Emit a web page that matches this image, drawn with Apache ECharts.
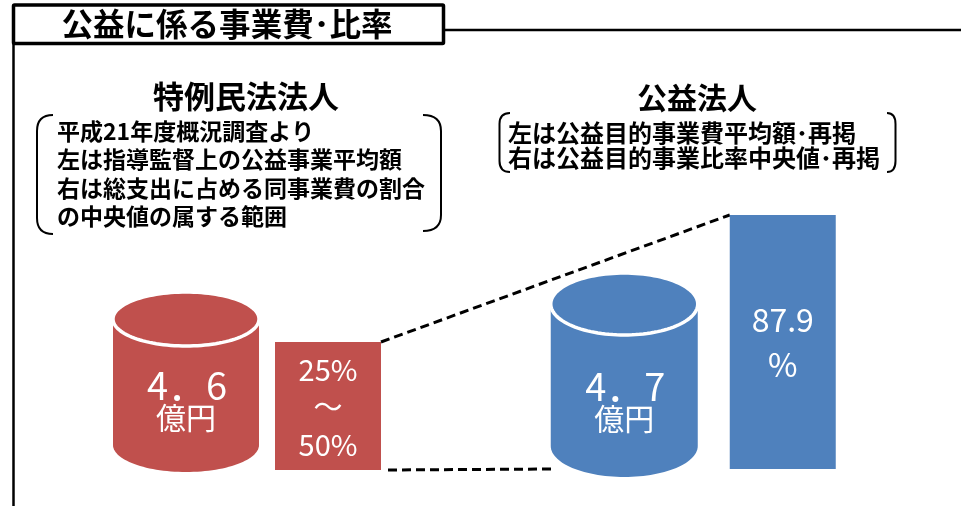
<!DOCTYPE html>
<html><head><meta charset="utf-8">
<script src="https://cdn.jsdelivr.net/npm/echarts@6/dist/echarts.min.js"></script>
<style>html,body{margin:0;padding:0;background:#fff}#main{width:961px;height:506px}</style>
</head><body><div id="main"></div>
<script>
// ---- data ----
const chartTitle = '公益に係る事業費･比率';
const groupNames = ['特例民法法人', '公益法人'];
const groupNotesSpecial = ['平成21年度概況調査より', '左は指導監督上の公益事業平均額', '右は総支出に占める同事業費の割合', 'の中央値の属する範囲'];
const groupNotesPublic = ['左は公益目的事業費平均額･再掲', '右は公益目的事業比率中央値･再掲'];
const slotNames = ['平均額', '比率'];
const avgAmount = [4.6, 4.7];            // 億円
const amountUnit = '億円';
const ratioRangeSpecial = [25, 50];      // % (中央値の属する範囲)
const ratioMedianPublic = [87.9];        // %

// ---- style / layout ----
const FONT = '"Noto Sans CJK JP", "Noto Sans", sans-serif';
const RED = '#C0504D', BLUE = '#4F81BD';
const BAR_W = 106;
const CYL = [{rx: 73, ry: 27, topUp: 151, botUp: 25}, {rx: 73.5, ry: 31, topUp: 165, botUp: 23}];
const COLORS = [RED, BLUE];

function fmtAmount(v) { return String(v).replace('.', '．'); }

function ellipsePts(cx, cy, rx, ry, a0, a1, n) {
  const pts = [];
  for (let i = 0; i <= n; i++) {
    const a = a0 + (a1 - a0) * i / n;
    pts.push([cx + rx * Math.cos(a), cy + ry * Math.sin(a)]);
  }
  return pts;
}

function cylinderItem(gi) {
  return function (params, api) {
    const cs = params.coordSys;
    const baseY = cs.y + cs.height;
    const cx = api.coord([api.value(0), 0])[0];
    const c = CYL[gi];
    const topCy = baseY - c.topUp, botCy = baseY - c.botUp;
    const col = COLORS[gi];
    const body = [[cx - c.rx, topCy]].concat(ellipsePts(cx, botCy, c.rx, c.ry, Math.PI, 0, 60)).concat([[cx + c.rx, topCy]]);
    const top = ellipsePts(cx, topCy, c.rx, c.ry, 0, Math.PI * 2, 120);
    return {
      type: 'group',
      children: [
        {type: 'polygon', shape: {points: body}, style: {fill: col}},
        {type: 'polygon', shape: {points: top}, style: {fill: col, stroke: '#fff', lineWidth: 3.5}},
        {type: 'text', x: cx + 1, y: botCy - 59, style: {text: fmtAmount(api.value(1)), fill: '#fff', fontSize: 38, fontFamily: FONT, align: 'center', verticalAlign: 'middle'}},
        {type: 'text', x: cx, y: botCy - 27, style: {text: amountUnit, fill: '#fff', fontSize: 30, fontFamily: FONT, align: 'center', verticalAlign: 'middle'}}
      ]
    };
  };
}

function rangeItem(params, api) {
  const top = api.coord([api.value(0), api.value(2)]);
  const bot = api.coord([api.value(0), api.value(1)]);
  return {
    type: 'group',
    children: [
      {type: 'rect', shape: {x: top[0] - BAR_W / 2, y: top[1], width: BAR_W, height: bot[1] - top[1]}, style: {fill: RED}},
      {type: 'text', x: top[0], y: (top[1] + bot[1]) / 2 + 1,
        style: {text: api.value(1) + '%\n～\n' + api.value(2) + '%', fill: '#fff', fontSize: 29, lineHeight: 37.5, fontFamily: FONT, align: 'center', verticalAlign: 'middle'}}
    ]
  };
}

const chart = echarts.init(document.getElementById('main'));

function txt(id, x, y, s, size, weight, align) {
  return {type: 'text', id: id, x: x, y: y, z: 10,
    style: {text: s, fill: '#000', fontSize: size, fontWeight: weight || 'bold', fontFamily: FONT, align: align || 'center', verticalAlign: 'middle'}};
}
// bracket: xe = end x (tips), xs = spine x, y0/y1 top/bottom, r = corner size
function bracket(id, xe, xs, y0, y1, r) {
  const st = {stroke: '#000', lineWidth: 2, fill: null};
  return {type: 'group', id: id, children: [
    {type: 'bezierCurve', shape: {x1: xe, y1: y0, cpx1: xs, cpy1: y0, x2: xs, y2: y0 + r}, style: st},
    {type: 'line', shape: {x1: xs, y1: y0 + r, x2: xs, y2: y1 - r}, style: st},
    {type: 'bezierCurve', shape: {x1: xs, y1: y1 - r, cpx1: xs, cpy1: y1, x2: xe, y2: y1}, style: st}
  ]};
}

const graphics = [
  {type: 'line', id: 'hline', shape: {x1: 443, y1: 30, x2: 961, y2: 30}, style: {stroke: '#000', lineWidth: 2.5}},
  {type: 'line', id: 'vline', shape: {x1: 13.5, y1: 43, x2: 13.5, y2: 506}, style: {stroke: '#000', lineWidth: 2.5}},
  {type: 'rect', id: 'tbox', shape: {x: 13.5, y: 5, width: 430, height: 38.5, r: 1}, style: {stroke: '#000', lineWidth: 3.5, fill: '#fff'}},
  txt('title', 227, 24.5, chartTitle, 31.5),
  txt('g0', 246, 96, groupNames[0], 31),
  txt('g1', 697, 98, groupNames[1], 30),
  bracket('b0l', 53, 37, 115, 234, 16),
  bracket('b0r', 423, 441, 115, 231, 16),
  bracket('b1l', 510, 499.5, 113, 172, 11),
  bracket('b1r', 887, 895.5, 113, 172, 11)
];
groupNotesSpecial.forEach((s, i) => graphics.push(txt('n0_' + i, 57, 131 + i * 28.5, s, 23, 'bold', 'left')));
groupNotesPublic.forEach((s, i) => graphics.push(txt('n1_' + i, 508, 132.5 + i * 25, s, 24, 'bold', 'left')));

chart.setOption({
  animation: false,
  backgroundColor: '#fff',
  grid: [
    {left: 115, width: 284, top: 86, bottom: 36},
    {left: 545, width: 317, top: 180, bottom: 37}
  ],
  xAxis: [
    {gridIndex: 0, type: 'category', data: slotNames, show: false},
    {gridIndex: 1, type: 'category', data: slotNames, show: false}
  ],
  yAxis: [
    {gridIndex: 0, type: 'value', min: 25, max: 100, show: false},
    {gridIndex: 1, type: 'value', min: 0, max: 100, show: false}
  ],
  series: [
    {type: 'custom', xAxisIndex: 0, yAxisIndex: 0, renderItem: cylinderItem(0), data: [[0, avgAmount[0]]]},
    {type: 'custom', xAxisIndex: 0, yAxisIndex: 0, renderItem: rangeItem, data: [[1, ratioRangeSpecial[0], ratioRangeSpecial[1]]]},
    {type: 'custom', xAxisIndex: 1, yAxisIndex: 1, renderItem: cylinderItem(1), data: [[0, avgAmount[1]]]},
    {type: 'bar', xAxisIndex: 1, yAxisIndex: 1, barWidth: BAR_W, itemStyle: {color: BLUE},
      data: ['-', ratioMedianPublic[0]],
      label: {show: true, position: 'inside', color: '#fff', fontSize: 32, lineHeight: 45, fontFamily: FONT,
        formatter: p => p.value + '\n%'}}
  ],
  graphic: graphics
});

// dashed connectors computed from the axes
const redTop = chart.convertToPixel({gridIndex: 0}, [1, ratioRangeSpecial[1]]);
const redBot = chart.convertToPixel({gridIndex: 0}, [1, ratioRangeSpecial[0]]);
const blueTop = chart.convertToPixel({gridIndex: 1}, [1, ratioMedianPublic[0]]);
const blueBase = chart.convertToPixel({gridIndex: 1}, [0, 0]);
const dashStyle = {stroke: '#000', lineWidth: 3, lineDash: [9, 5]};
chart.setOption({
  graphic: graphics.concat([
    {type: 'line', id: 'dash1', shape: {x1: redTop[0] + BAR_W / 2, y1: redTop[1], x2: blueTop[0] - BAR_W / 2, y2: blueTop[1]}, style: dashStyle},
    {type: 'line', id: 'dash2', shape: {x1: redBot[0] + BAR_W / 2 + 7, y1: redBot[1], x2: blueBase[0] - CYL[1].rx + 4, y2: blueBase[1]}, style: dashStyle}
  ])
});
</script>
</body></html>
